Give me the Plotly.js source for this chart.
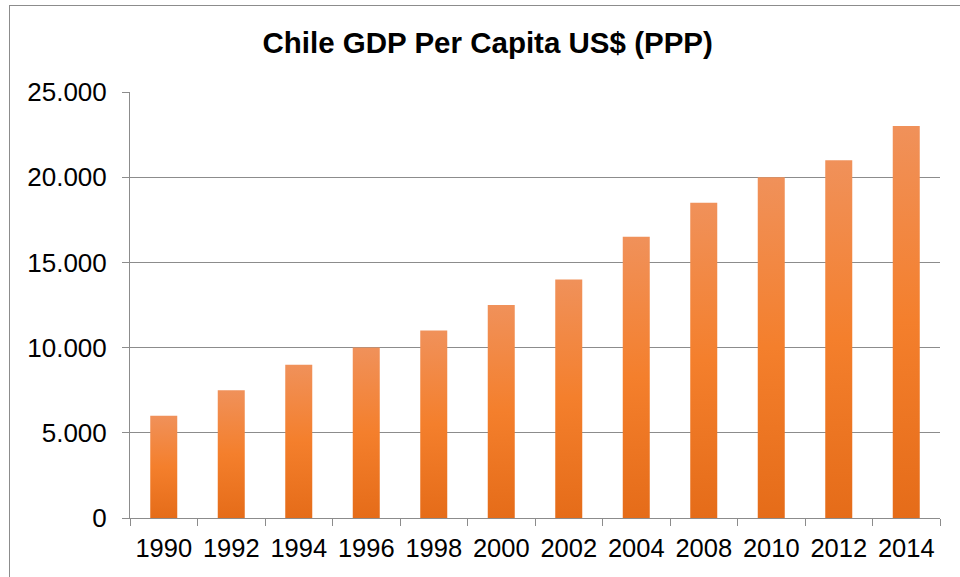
<!DOCTYPE html>
<html>
<head>
<meta charset="utf-8">
<script src="https://cdn.plot.ly/plotly-3.0.1.min.js"></script>
<style>
  html, body { margin: 0; padding: 0; background: #fff; overflow: hidden; }
  #chart { width: 960px; height: 577px; }
  #frame { position: absolute; left: 9px; top: 5px; width: 1000px; height: 1000px;
           border: 1px solid #8c8c8c; pointer-events: none; box-sizing: border-box; }
</style>
</head>
<body>
<div id="chart"></div>
<div id="frame"></div>
<script>
const years = ['1990','1992','1994','1996','1998','2000','2002','2004','2008','2010','2012','2014'];
const gdpPerCapita = [6000, 7500, 9000, 10000, 11000, 12500, 14000, 16500, 18500, 20000, 21000, 23000];
const yTicks = [0, 5000, 10000, 15000, 20000, 25000];
const chartTitle = 'Chile GDP Per Capita US$ (PPP)';

const grey = '#8c8c8c';
const fontFam = 'Arial, "Liberation Sans", sans-serif';

const trace = {
  type: 'bar',
  x: years,
  y: gdpPerCapita,
  marker: { color: '#f27f2e', line: { width: 0 } },
  hoverinfo: 'x+y'
};

const layout = {
  width: 960, height: 577,
  margin: { l: 130, r: 20, t: 92, b: 59 },
  paper_bgcolor: '#ffffff', plot_bgcolor: '#ffffff',
  separators: ',.',
  font: { family: fontFam, color: '#000000', size: 25.5 },
  title: {
    text: '<b>' + chartTitle + '</b>',
    font: { family: fontFam, size: 29.5, color: '#000000' },
    xref: 'container', x: 0.508, xanchor: 'center',
    yref: 'container', y: 1 - 43/577, yanchor: 'middle'
  },
  bargap: 0.6,
  showlegend: false,
  xaxis: {
    type: 'category',
    showline: true, linecolor: grey, linewidth: 1,
    ticks: 'outside', tickson: 'boundaries', ticklen: 7, tickcolor: grey, tickwidth: 1,
    showgrid: false, zeroline: false,
    ticklabelstandoff: 7,
    tickfont: { size: 25.5, family: fontFam, color: '#000' }
  },
  yaxis: {
    range: [0, 25000],
    tickvals: yTicks,
    tickformat: ',d',
    showline: true, linecolor: grey, linewidth: 1,
    ticks: 'outside', ticklen: 7, tickcolor: grey, tickwidth: 1,
    showgrid: true, gridcolor: grey, gridwidth: 1,
    zeroline: false,
    ticklabelstandoff: 10,
    tickfont: { size: 26, family: fontFam, color: '#000' }
  }
};

Plotly.newPlot('chart', [trace], layout, { staticPlot: true, displayModeBar: false }).then(function (gd) {
  const svg = gd.querySelector('svg.main-svg');
  const ns = 'http://www.w3.org/2000/svg';
  let defs = svg.querySelector('defs');
  if (!defs) { defs = document.createElementNS(ns, 'defs'); svg.insertBefore(defs, svg.firstChild); }
  const grad = document.createElementNS(ns, 'linearGradient');
  grad.setAttribute('id', 'barGrad');
  grad.setAttribute('x1', '0'); grad.setAttribute('y1', '0');
  grad.setAttribute('x2', '0'); grad.setAttribute('y2', '1');
  [['0', '#f0915a'], ['0.5', '#f47f2c'], ['1', '#e56c19']].forEach(function (s) {
    const st = document.createElementNS(ns, 'stop');
    st.setAttribute('offset', s[0]);
    st.setAttribute('stop-color', s[1]);
    grad.appendChild(st);
  });
  defs.appendChild(grad);
  gd.querySelectorAll('.bars .point path').forEach(function (p) {
    p.style.fill = 'url(#barGrad)';
  });
});
</script>
</body>
</html>
